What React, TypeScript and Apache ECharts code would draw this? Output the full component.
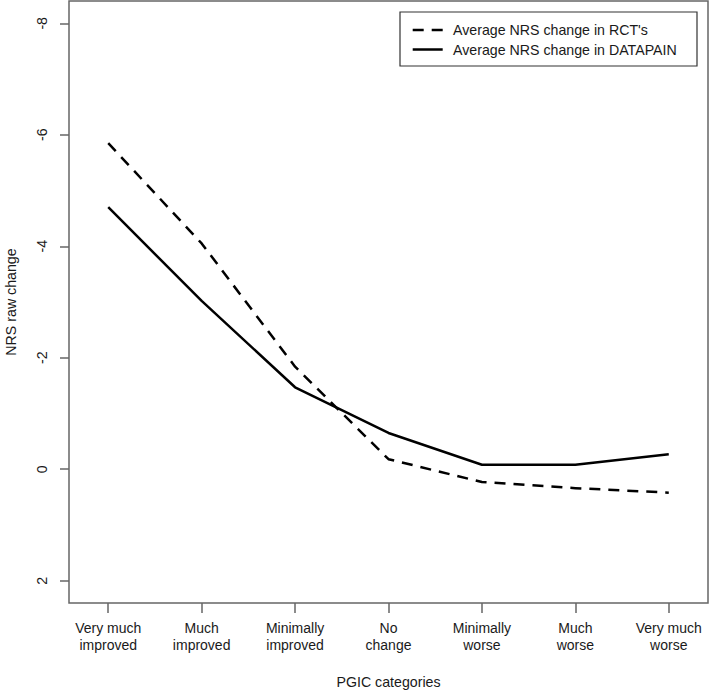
import React, { useEffect, useRef } from "react";
import * as echarts from "echarts";

const categories = [
  "Very much\nimproved",
  "Much\nimproved",
  "Minimally\nimproved",
  "No\nchange",
  "Minimally\nworse",
  "Much\nworse",
  "Very much\nworse",
];
const rctValues = [-5.85, -4.05, -1.84, -0.18, 0.23, 0.34, 0.42];
const datapainValues = [-4.7, -3.02, -1.47, -0.65, -0.08, -0.08, -0.27];
const yTicks = [-8, -6, -4, -2, 0, 2];
const xTicks = [1, 2, 3, 4, 5, 6, 7];
const seriesNames = ["Average NRS change in RCT's", "Average NRS change in DATAPAIN"];

const FONT = "'Liberation Sans', Arial, Helvetica, sans-serif";
const AXIS_COLOR = "#666";
const TEXT_COLOR = "#1a1a1a";
const DASH = [11, 8];

export default function App() {
  const ref = useRef<HTMLDivElement>(null);
  useEffect(() => {
    if (!ref.current) return;
    const chart = echarts.init(ref.current, undefined, { renderer: "svg" });
    const toPairs = (vals: number[]) => vals.map((v, i) => [xTicks[i], v]);
    const legendRows = [30, 49.5];
    chart.setOption({
      animation: false,
      backgroundColor: "#fff",
      textStyle: { fontFamily: FONT },
      grid: {
        left: 69,
        right: 1,
        top: 1,
        bottom: 91,
        show: true,
        borderColor: AXIS_COLOR,
        borderWidth: 1.5,
        backgroundColor: "transparent",
        containLabel: false,
        outerBoundsMode: "none",
      },
      graphic: [
        {
          type: "rect",
          shape: { x: 400, y: 12, width: 297, height: 54 },
          style: { fill: "#fff", stroke: "#333", lineWidth: 1.2 },
          z: 100,
        },
        ...seriesNames.flatMap((name, i) => [
          {
            type: "line",
            shape: { x1: 412.7, y1: legendRows[i], x2: 442.7, y2: legendRows[i] },
            style: {
              stroke: "#000",
              lineWidth: 2.5,
              lineDash: i === 0 ? DASH : null,
            },
            z: 101,
          },
          {
            type: "text",
            x: 453,
            y: legendRows[i],
            style: {
              text: name,
              fontFamily: FONT,
              fontSize: 14.2,
              fill: TEXT_COLOR,
              verticalAlign: "middle",
              textAlign: "left",
            },
            z: 101,
          },
        ]),
      ],
      xAxis: {
        type: "value",
        min: 0.58,
        max: 7.42,
        splitLine: { show: false },
        axisLine: { show: false, onZero: false },
        axisTick: {
          show: true,
          customValues: xTicks,
          length: 10,
          lineStyle: { color: AXIS_COLOR, width: 1.5 },
        },
        axisLabel: {
          customValues: xTicks,
          formatter: (v: number) => categories[Math.round(v) - 1] ?? "",
          fontFamily: FONT,
          fontSize: 14,
          lineHeight: 16.5,
          color: TEXT_COLOR,
          margin: 17,
        },
        name: "PGIC categories",
        nameLocation: "middle",
        nameGap: 72,
        nameTextStyle: { fontFamily: FONT, fontSize: 14.2, color: TEXT_COLOR },
      },
      yAxis: {
        type: "value",
        inverse: true,
        min: -8.4,
        max: 2.4,
        splitLine: { show: false },
        axisLine: { show: false, onZero: false },
        axisTick: {
          show: true,
          customValues: yTicks,
          length: 9,
          lineStyle: { color: AXIS_COLOR, width: 1.5 },
        },
        axisLabel: {
          customValues: yTicks,
          rotate: 90,
          fontFamily: FONT,
          fontSize: 14.2,
          color: TEXT_COLOR,
          margin: 20,
        },
        name: "NRS raw change",
        nameLocation: "middle",
        nameGap: 51,
        nameRotate: 90,
        nameTextStyle: { fontFamily: FONT, fontSize: 14.2, color: TEXT_COLOR },
      },
      series: [
        {
          name: seriesNames[0],
          type: "line",
          data: toPairs(rctValues),
          symbol: "none",
          color: "#000",
          lineStyle: { color: "#000", width: 2.5, type: DASH, join: "round" },
        },
        {
          name: seriesNames[1],
          type: "line",
          data: toPairs(datapainValues),
          symbol: "none",
          color: "#000",
          lineStyle: { color: "#000", width: 2.5, type: "solid", join: "round" },
        },
      ],
    });
    return () => chart.dispose();
  }, []);
  return (
    <div
      ref={ref}
      style={{ position: "fixed", left: 0, top: 0, width: 709, height: 694, background: "#fff" }}
    />
  );
}
